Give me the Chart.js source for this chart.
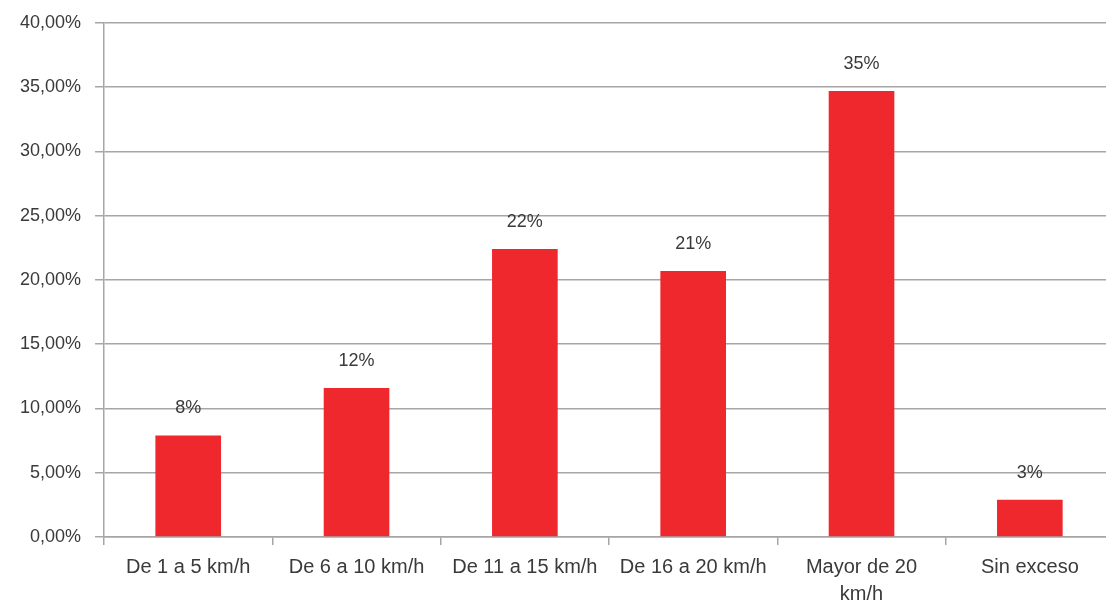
<!DOCTYPE html>
<html lang="es">
<head>
    <meta charset="UTF-8">
    <title>Exceso de velocidad</title>
    <script src="https://cdn.jsdelivr.net/npm/chart.js"></script>
    <style>
        html, body { margin: 0; padding: 0; background: #fff; overflow: hidden; }
        #wrap { width: 1114px; height: 619px; position: relative; margin-top: -2px; }
    </style>
</head>
<body>
    <div id="wrap"><canvas id="myChart"></canvas></div>

    <script>
        const categories = [
            'De 1 a 5 km/h',
            'De 6 a 10 km/h',
            'De 11 a 15 km/h',
            'De 16 a 20 km/h',
            ['Mayor de 20', 'km/h'],
            'Sin exceso'
        ];
        const shares = [7.9, 11.6, 22.4, 20.7, 34.7, 2.9];
        const shareLabels = ['8%', '12%', '22%', '21%', '35%', '3%'];

        const textColor = '#3a3a3a';
        const gridColor = '#a6a6a6';
        const fontFamily = '"Liberation Sans", Arial, sans-serif';

        // draws the rounded percentage above each bar
        const barLabels = {
            id: 'barLabels',
            afterDatasetsDraw(chart) {
                const ctx = chart.ctx;
                const meta = chart.getDatasetMeta(0);
                ctx.save();
                ctx.font = '18px ' + fontFamily;
                ctx.fillStyle = textColor;
                ctx.textAlign = 'center';
                ctx.textBaseline = 'middle';
                meta.data.forEach((bar, i) => {
                    ctx.fillText(shareLabels[i], bar.x, bar.y - 27);
                });
                ctx.restore();
            }
        };

        const ctx = document.getElementById('myChart').getContext('2d');
        new Chart(ctx, {
            type: 'bar',
            data: {
                labels: categories,
                datasets: [{
                    data: shares,
                    backgroundColor: '#ee282d',
                    borderWidth: 0,
                    barPercentage: 0.39,
                    categoryPercentage: 1
                }]
            },
            options: {
                responsive: true,
                maintainAspectRatio: false,
                animation: false,
                layout: { padding: { top: 10, left: 6, right: 0, bottom: 0 } },
                plugins: {
                    legend: { display: false },
                    tooltip: { enabled: false }
                },
                scales: {
                    x: {
                        grid: {
                            drawOnChartArea: false,
                            drawTicks: true,
                            tickLength: 8,
                            color: gridColor,
                            lineWidth: 1.5
                        },
                        border: { color: gridColor, width: 1.5 },
                        ticks: {
                            autoSkip: false,
                            maxRotation: 0,
                            minRotation: 0,
                            padding: 9,
                            color: textColor,
                            font: { family: fontFamily, size: 20, lineHeight: 1.35 }
                        }
                    },
                    y: {
                        min: 0,
                        max: 40,
                        grid: {
                            color: gridColor,
                            lineWidth: 1.5,
                            tickLength: 9
                        },
                        border: { color: gridColor, width: 1.5 },
                        ticks: {
                            stepSize: 5,
                            padding: 14,
                            color: textColor,
                            font: { family: fontFamily, size: 18 },
                            callback: v => v.toFixed(2).replace('.', ',') + '%'
                        }
                    }
                }
            },
            plugins: [barLabels]
        });
    </script>
</body>
</html>
